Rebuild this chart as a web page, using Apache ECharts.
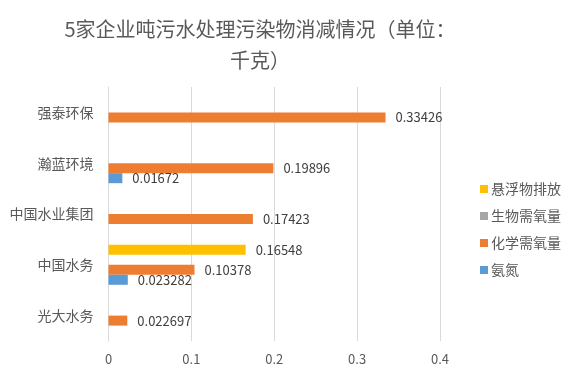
<!DOCTYPE html>
<html>
<head>
<meta charset="utf-8">
<script src="https://cdn.jsdelivr.net/npm/echarts@6/dist/echarts.min.js"></script>
<style>html,body{margin:0;padding:0;background:#fff;}#c{width:572px;height:377px;}</style>
</head>
<body>
<div id="c"></div>
<script>
const categories = ['光大水务', '中国水务', '中国水业集团', '瀚蓝环境', '强泰环保'];
const seriesNames = ['悬浮物排放', '生物需氧量', '化学需氧量', '氨氮'];
const ammonia = [null, 0.023282, null, 0.01672, null];
const cod = [0.022697, 0.10378, 0.17423, 0.19896, 0.33426];
const bod = [null, null, null, null, null];
const suspended = [null, 0.16548, null, null, null];
const xTicks = [0, 0.1, 0.2, 0.3, 0.4];
const titleText = '5家企业吨污水处理污染物消减情况（单位：\n千克）';

const FONT = '"Noto Sans CJK SC", "Noto Sans", sans-serif';
const colors = { '氨氮': '#5B9BD5', '化学需氧量': '#ED7D31', '生物需氧量': '#A5A5A5', '悬浮物排放': '#FFC000' };
const dataMap = { '氨氮': ammonia, '化学需氧量': cod, '生物需氧量': bod, '悬浮物排放': suspended };

const chart = echarts.init(document.getElementById('c'), null, { renderer: 'canvas' });
chart.setOption({
  animation: false,
  backgroundColor: '#fff',
  title: {
    text: titleText,
    left: 255,
    top: 9,
    textAlign: 'center',
    textStyle: { fontFamily: FONT, fontSize: 20, fontWeight: 'normal', color: '#595959', lineHeight: 31 }
  },
  legend: {
    orient: 'vertical',
    left: 475,
    top: 177,
    data: seriesNames,
    icon: 'rect',
    itemWidth: 8,
    itemHeight: 8,
    itemGap: 13,
    textStyle: { fontFamily: FONT, fontSize: 14, color: '#595959', padding: [0, 0, 0, -2] }
  },
  grid: { left: 108.5, right: 132, top: 87, bottom: 36, containLabel: false },
  xAxis: {
    type: 'value',
    min: xTicks[0],
    max: xTicks[xTicks.length - 1],
    interval: 0.1,
    axisLine: { show: false },
    axisTick: { show: false },
    splitLine: { lineStyle: { color: '#D9D9D9', width: 1 } },
    axisLabel: { fontFamily: FONT, fontSize: 13, color: '#595959', margin: 12 }
  },
  yAxis: {
    type: 'category',
    data: categories,
    axisLine: { show: true, lineStyle: { color: '#D9D9D9' } },
    axisTick: { show: false },
    axisLabel: { fontFamily: FONT, fontSize: 14, color: '#595959', margin: 15 }
  },
  series: seriesNames.map(n => ({
    name: n,
    type: 'bar',
    data: dataMap[n],
    barWidth: 10,
    barGap: '0%',
    itemStyle: { color: colors[n] },
    label: {
      show: true,
      position: 'right',
      distance: 10,
      fontFamily: FONT,
      fontSize: 13,
      color: '#404040'
    }
  }))
});
</script>
</body>
</html>
